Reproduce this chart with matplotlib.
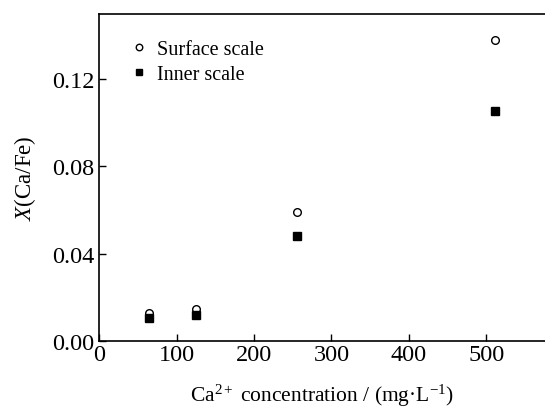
import numpy as np
import matplotlib
matplotlib.use('Agg')
import matplotlib.pyplot as plt

ca_conc = [65, 125, 256, 512]
surface_scale = [0.013, 0.0147, 0.059, 0.1378]
inner_scale = [0.0107, 0.0117, 0.048, 0.1056]

x_ticks = [0, 100, 200, 300, 400, 500]
y_ticks = [0.00, 0.04, 0.08, 0.12]

plt.rcParams['font.family'] = ['Liberation Serif', 'DejaVu Serif']
plt.rcParams['mathtext.fontset'] = 'custom'
plt.rcParams['mathtext.rm'] = 'Liberation Serif'
plt.rcParams['mathtext.it'] = 'Liberation Serif:italic'

fig = plt.figure(figsize=(5.45, 4.10), dpi=100)
ax = fig.add_axes([0.182, 0.166, 0.818, 0.798])

ax.plot(ca_conc, surface_scale, linestyle='none', marker='o', markersize=5.5,
        markerfacecolor='white', markeredgecolor='black', markeredgewidth=1.0,
        label='Surface scale')
ax.plot(ca_conc, inner_scale, linestyle='none', marker='s', markersize=5.5,
        color='black', label='Inner scale')

ax.set_xlim(0, 576)
ax.set_ylim(0, 0.150)
ax.set_xticks(x_ticks)
ax.set_yticks(y_ticks)
ax.set_yticklabels([f'{v:.2f}' for v in y_ticks])
ax.tick_params(direction='in', length=5, width=1, labelsize=17.5)
ax.tick_params(axis='x', pad=2)
ax.spines['right'].set_visible(False)
for s in ['left', 'bottom', 'top']:
    ax.spines[s].set_linewidth(1.2)

ax.set_xlabel('Ca$^{2+}$ concentration / (mg·L$^{-1}$)', fontsize=15.5, labelpad=12)
ax.set_ylabel('$X$(Ca/Fe)', fontsize=16.5, labelpad=10)

ax.legend(loc='upper left', bbox_to_anchor=(0.025, 0.975), frameon=False,
          fontsize=14.5, handletextpad=0.4, labelspacing=0.3, handlelength=1.0,
          markerscale=0.85)

fig.savefig('out.png', dpi=100)
